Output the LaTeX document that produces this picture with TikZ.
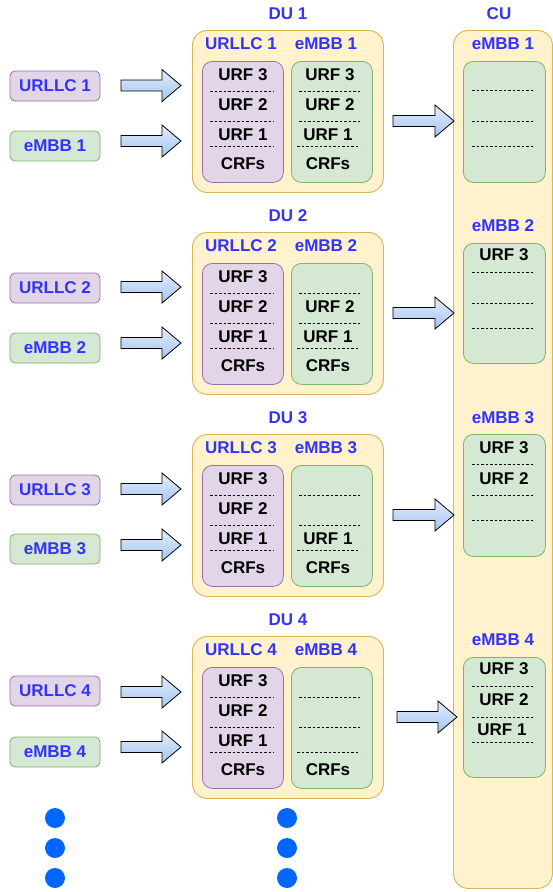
\documentclass[tikz,border=0pt]{standalone}
\usepackage{fontspec}
\setmainfont{Liberation Sans}
\definecolor{duFill}{HTML}{FFF2CC}
\definecolor{duDraw}{HTML}{D6B656}
\definecolor{urFill}{HTML}{E1D5E7}
\definecolor{urDraw}{HTML}{9673A6}
\definecolor{emFill}{HTML}{D5E8D4}
\definecolor{emDraw}{HTML}{82B366}
\definecolor{lbl}{HTML}{3333FF}
\definecolor{dotc}{HTML}{0066FF}
\definecolor{arTop}{HTML}{E3EEFC}
\definecolor{arBot}{HTML}{A3C4EE}
\tikzset{
  txt/.style={font=\fontsize{17}{17}\selectfont\bfseries, inner sep=0pt},
  lab/.style={txt, text=lbl},
  dubox/.style={draw=duDraw, fill=duFill, line width=0.9pt, rounded corners=15pt, anchor=north west, inner sep=0pt},
  urbox/.style={draw=urDraw, fill=urFill, line width=0.8pt, rounded corners=10pt, anchor=north west, inner sep=0pt, minimum width=81pt, minimum height=121pt},
  embox/.style={draw=emDraw, fill=emFill, line width=0.8pt, rounded corners=10pt, anchor=north west, inner sep=0pt, minimum width=81pt, minimum height=121pt},
  urin/.style={draw=urDraw, fill=urFill, line width=0.8pt, rounded corners=5pt, minimum width=90pt, minimum height=30pt, inner sep=0pt, font=\fontsize{17}{17}\selectfont\bfseries, text=lbl},
  emin/.style={draw=emDraw, fill=emFill, line width=0.8pt, rounded corners=5pt, minimum width=90pt, minimum height=30pt, inner sep=0pt, font=\fontsize{17}{17}\selectfont\bfseries, text=lbl},
  sep/.style={draw=black, line width=0.7pt, dash pattern=on 2.5pt off 2pt},
  blockarrow/.style={draw=black, line width=0.8pt, top color=arTop, bottom color=arBot, line join=miter},
  bluedot/.style={circle, fill=dotc, minimum size=20pt, inner sep=0pt},
}
\newcommand\blockarr[3]{% x1, x2, y
  \draw[blockarrow] (#1,#3-5.5) -- (#2-19,#3-5.5) -- (#2-19,#3-16) -- (#2,#3) -- (#2-19,#3+16) -- (#2-19,#3+5.5) -- (#1,#3+5.5) -- cycle;}
\begin{document}
\begin{tikzpicture}[x=1pt, y=-1pt]
\useasboundingbox (0,0) rectangle (553,892);
% CU column
\node[dubox, minimum width=99pt, minimum height=858pt] (cu) at (453,30) {};
\node[lab] (cut) at (499,14) {CU};
% DU blocks
\foreach \k/\T/\yu/\ye/\au/\ae/\ac/\ax/\bx in {1/30/86/146/85.5/141/121/393/454, 2/232/288/348/287/343/313/393/454, 3/434/490/549/489/545/515/393/454, 4/636/691/752/692/747/717/397/457} {
  \node[dubox, minimum width=191pt, minimum height=162pt] (du\k) at (192,\T) {};
  \node[lab] (dut\k) at (288,\T-16) {DU \k};
  \node[lab] (dul\k) at (241,\T+14) {URLLC \k};
  \node[lab] (due\k) at (326,\T+14) {eMBB \k};
  \node[urbox] (dur\k) at (202,\T+31) {};
  \node[embox] (dum\k) at (291,\T+31) {};
  \node[txt] (ur3\k) at (243,\T+45) {URF 3};
  \node[txt] (ur2\k) at (243,\T+75) {URF 2};
  \node[txt] (ur1\k) at (243,\T+105) {URF 1};
  \node[txt] (urc\k) at (243,\T+134) {CRFs};
  \draw[sep] (210,\T+61) -- (274,\T+61);
  \draw[sep] (210,\T+91) -- (274,\T+91);
  \draw[sep] (210,\T+116) -- (274,\T+116);
  \ifnum\k<2 \node[txt] (em3\k) at (330,\T+45) {URF 3}; \fi
  \ifnum\k<3 \node[txt] (em2\k) at (330,\T+75) {URF 2}; \fi
  \ifnum\k<4 \node[txt] (em1\k) at (328,\T+105) {URF 1}; \fi
  \node[txt] (emc\k) at (328,\T+134) {CRFs};
  \draw[sep] (299,\T+61) -- (361,\T+61);
  \draw[sep] (299,\T+91) -- (361,\T+91);
  \draw[sep] (297,\T+116) -- (360,\T+116);
  % inputs
  \node[urin] (inu\k) at (55,\yu) {URLLC \k};
  \node[emin] (ine\k) at (55,\ye) {eMBB \k};
  \blockarr{121}{181}{\au}
  \blockarr{121}{181}{\ae}
  \blockarr{\ax}{\bx}{\ac}
}
% CU groups
\foreach \k/\L/\B/\H in {1/44/61/121, 2/226/243/120, 3/418/434/122, 4/640/657/120} {
  \node[lab] (cul\k) at (503,\L) {eMBB \k};
  \node[embox, minimum width=82pt, minimum height=\H pt] (cub\k) at (463,\B) {};
}
\draw[sep] (472,90) -- (534,90);
\draw[sep] (472,121) -- (534,121);
\draw[sep] (472,146) -- (534,146);
\node[txt] (c2a) at (504,255) {URF 3};
\draw[sep] (472,272) -- (534,272);
\draw[sep] (472,303) -- (534,303);
\draw[sep] (472,328) -- (534,328);
\node[txt] (c3a) at (504,448) {URF 3};
\draw[sep] (472,464) -- (534,464);
\node[txt] (c3b) at (504,479) {URF 2};
\draw[sep] (472,495) -- (534,495);
\draw[sep] (472,520) -- (534,520);
\node[txt] (c4a) at (504,669) {URF 3};
\draw[sep] (472,686) -- (534,686);
\node[txt] (c4b) at (504,700) {URF 2};
\draw[sep] (472,717) -- (534,717);
\node[txt] (c4c) at (502,730) {URF 1};
\draw[sep] (472,742) -- (534,742);
% continuation dots
\foreach \i/\y in {1/818, 2/848, 3/878} {
  \node[bluedot] (dl\i) at (55,\y) {};
  \node[bluedot] (dm\i) at (287,\y) {};
}
\end{tikzpicture}
\end{document}
